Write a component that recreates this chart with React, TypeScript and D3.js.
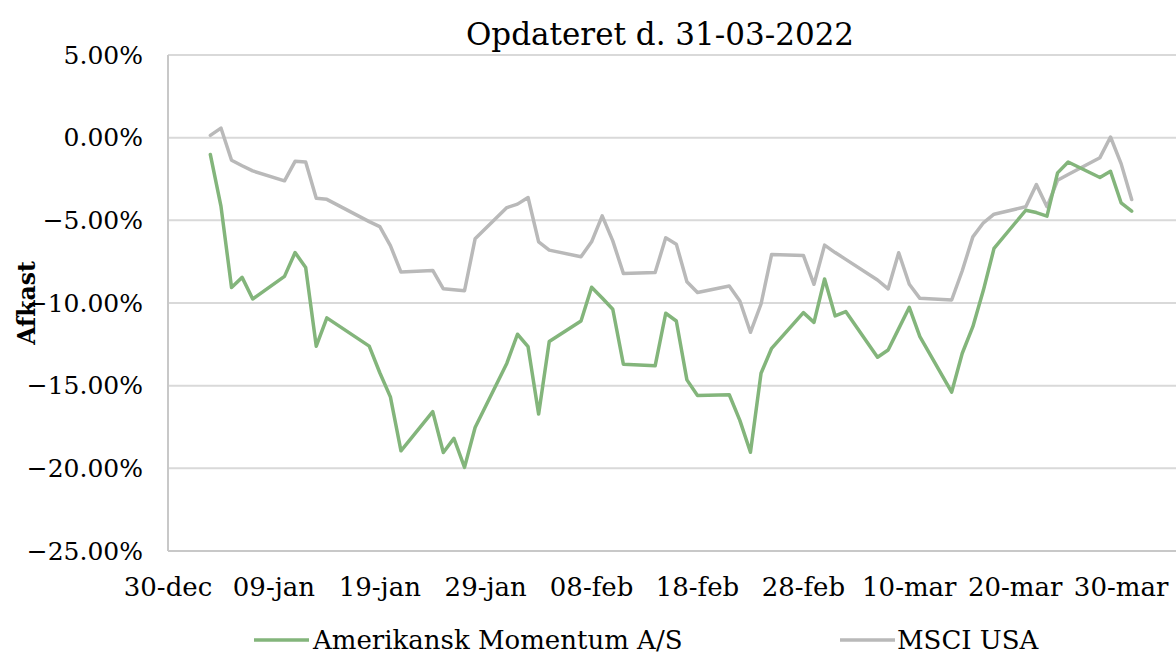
import React from "react";
import * as d3 from "d3";

const dates: string[] = [
  "2022-01-03","2022-01-04","2022-01-05","2022-01-06","2022-01-07",
  "2022-01-10","2022-01-11","2022-01-12","2022-01-13","2022-01-14",
  "2022-01-18","2022-01-19","2022-01-20","2022-01-21",
  "2022-01-24","2022-01-25","2022-01-26","2022-01-27","2022-01-28",
  "2022-01-31","2022-02-01","2022-02-02","2022-02-03","2022-02-04",
  "2022-02-07","2022-02-08","2022-02-09","2022-02-10","2022-02-11",
  "2022-02-14","2022-02-15","2022-02-16","2022-02-17","2022-02-18",
  "2022-02-21","2022-02-22","2022-02-23","2022-02-24","2022-02-25",
  "2022-02-28","2022-03-01","2022-03-02","2022-03-03","2022-03-04",
  "2022-03-07","2022-03-08","2022-03-09","2022-03-10","2022-03-11",
  "2022-03-14","2022-03-15","2022-03-16","2022-03-17","2022-03-18",
  "2022-03-21","2022-03-22","2022-03-23","2022-03-24","2022-03-25",
  "2022-03-28","2022-03-29","2022-03-30","2022-03-31",
];

const momentum: number[] = [
  -1.02, -4.14, -9.06, -8.45, -9.76,
  -8.39, -6.95, -7.85, -12.61, -10.9,
  -12.61, -14.22, -15.68, -18.94,
  -16.57, -19.04, -18.19, -19.94, -17.53,
  -13.64, -11.89, -12.64, -16.72, -12.33,
  -11.09, -9.05, -9.7, -10.38, -13.7,
  -13.8, -10.62, -11.09, -14.65, -15.59,
  -15.55, -17.1, -19.03, -14.25, -12.74,
  -10.58, -11.17, -8.55, -10.78, -10.52,
  -13.28, -12.84, -11.55, -10.26, -12.03,
  -15.39, -13.04, -11.43, -9.22, -6.7,
  -4.39, -4.53, -4.75, -2.13, -1.47,
  -2.41, -2.03, -3.94, -4.45,
];

const msci: number[] = [
  0.14, 0.58, -1.37, -1.7, -2.01,
  -2.61, -1.43, -1.47, -3.67, -3.73,
  -5.08, -5.38, -6.53, -8.13,
  -8.03, -9.14, -9.2, -9.26, -6.12,
  -4.23, -4.02, -3.62, -6.3, -6.8,
  -7.2, -6.3, -4.73, -6.24, -8.21,
  -8.15, -6.06, -6.44, -8.71, -9.36,
  -8.97, -9.88, -11.77, -10.06, -7.06,
  -7.12, -8.87, -6.5, -6.95, -7.36,
  -8.61, -9.15, -6.96, -8.87, -9.72,
  -9.82, -8.05, -6.0, -5.15, -4.63,
  -4.18, -2.84, -4.18, -2.58, -2.23,
  -1.21, 0.04, -1.57, -3.74,
];

const tickDates: string[] = [
  "2021-12-30","2022-01-09","2022-01-19","2022-01-29","2022-02-08",
  "2022-02-18","2022-02-28","2022-03-10","2022-03-20","2022-03-30",
];
const tickLabels: string[] = [
  "30-dec","09-jan","19-jan","29-jan","08-feb",
  "18-feb","28-feb","10-mar","20-mar","30-mar",
];
const yTicks: number[] = [5, 0, -5, -10, -15, -20, -25];

const seriesNames: string[] = ["Amerikansk Momentum A/S", "MSCI USA"];
const seriesColors: string[] = ["#83B57B", "#B9B9B9"];

const W = 1176;
const H = 658;
const FONT = "'DejaVu Serif', serif";

export default function App() {
  const parse = d3.utcParse("%Y-%m-%d");
  const x = d3
    .scaleUtc()
    .domain([parse("2021-12-30")!, parse("2022-04-09")!])
    .range([168, 1227]);
  const y = d3.scaleLinear().domain([-25, 5]).range([551, 55]);

  const pts = dates.map((d) => parse(d)!);
  const line = d3
    .line<number>()
    .x((_, i) => x(pts[i]))
    .y((v) => y(v));

  const series = [momentum, msci];
  const left = 168;

  const legendItems = [
    { lx: 254, tx: 313 },
    { lx: 840, tx: 897 },
  ];

  return (
    <svg
      width={W}
      height={H}
      style={{ position: "absolute", left: 0, top: 0, background: "#fff" }}
      fontFamily={FONT}
    >
      <rect x={0} y={0} width={W} height={H} fill="#fff" />
      {yTicks.map((t) => (
        <line
          key={"g" + t}
          x1={left}
          x2={W}
          y1={y(t)}
          y2={y(t)}
          stroke={t === -25 ? "#C8C8C8" : "#D9D9D9"}
          strokeWidth={2}
        />
      ))}
      <line x1={left} x2={left} y1={y(5)} y2={y(-25)} stroke="#C8C8C8" strokeWidth={2} />

      {yTicks.map((t) => (
        <text
          key={"yl" + t}
          x={143}
          y={y(t)}
          dy="0.35em"
          textAnchor="end"
          fontSize={25}
          fill="#000"
        >
          {d3.format(".2f")(t) + "%"}
        </text>
      ))}

      {tickDates.map((d, i) => (
        <text
          key={"xl" + d}
          x={x(parse(d)!)}
          y={596}
          textAnchor="middle"
          fontSize={26}
          fill="#000"
        >
          {tickLabels[i]}
        </text>
      ))}

      <text
        transform={`translate(35,303) rotate(-90)`}
        textAnchor="middle"
        fontSize={23.5}
        fontWeight="bold"
        fill="#000"
      >
        Afkast
      </text>

      <text x={660} y={45} textAnchor="middle" fontSize={31} fill="#000">
        Opdateret d. 31-03-2022
      </text>

      {series
        .slice()
        .reverse()
        .map((s, ri) => {
          const i = series.length - 1 - ri;
          return (
            <path
              key={"s" + i}
              d={line(s) || ""}
              fill="none"
              stroke={seriesColors[i]}
              strokeWidth={3.5}
              strokeLinejoin="round"
              strokeLinecap="round"
            />
          );
        })}

      {seriesNames.map((n, i) => (
        <g key={"lg" + n}>
          <line
            x1={legendItems[i].lx}
            x2={legendItems[i].lx + 55}
            y1={640}
            y2={640}
            stroke={seriesColors[i]}
            strokeWidth={3.5}
          />
          <text x={legendItems[i].tx} y={649} fontSize={26} fill="#000">
            {n}
          </text>
        </g>
      ))}
    </svg>
  );
}
